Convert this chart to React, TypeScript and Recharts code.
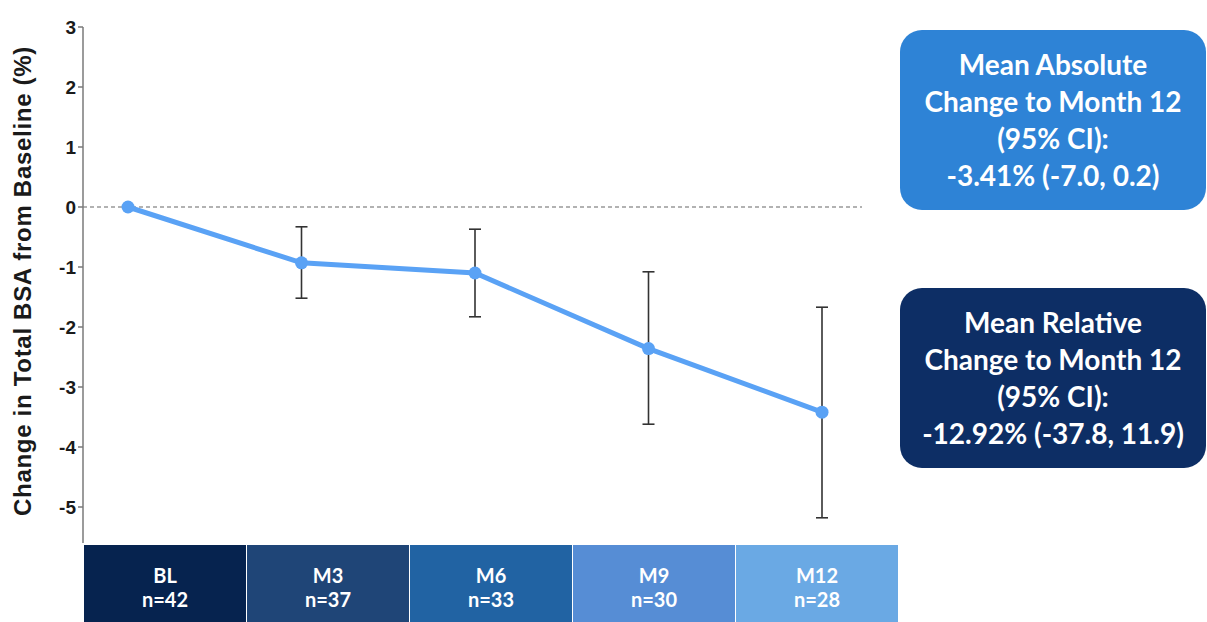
import { LineChart, Line, XAxis, YAxis, ReferenceLine, ErrorBar } from 'recharts';

const VISITS = ['BL', 'M3', 'M6', 'M9', 'M12'];
const N_COUNTS = [42, 37, 33, 30, 28];
const MEAN_CHANGE = [0, -0.93, -1.1, -2.36, -3.42];
const CI_LOWER = [null, -1.52, -1.83, -3.62, -5.18];
const CI_UPPER = [null, -0.33, -0.37, -1.08, -1.67];
const Y_TICKS = [3, 2, 1, 0, -1, -2, -3, -4, -5];
const BOX_COLORS = ['#06234f', '#1f4577', '#2163a3', '#568dd5', '#6aa9e4'];

const data = VISITS.map((visit, i) => ({
  visit,
  mean: MEAN_CHANGE[i],
  // ErrorBar wants distances from the mean: [below, above]
  err:
    CI_LOWER[i] == null
      ? undefined
      : [MEAN_CHANGE[i] - (CI_LOWER[i] as number), (CI_UPPER[i] as number) - MEAN_CHANGE[i]],
}));

const axisFont = '"Liberation Sans", Arial, sans-serif';
const boxFont = 'Lato, "Open Sans", sans-serif';

function YLabel() {
  return (
    <text
      x={31}
      y={281}
      transform="rotate(-90 31 281)"
      textAnchor="middle"
      fontFamily={axisFont}
      fontSize={24}
      fontWeight={700}
      letterSpacing={0.7}
      fill="#1a1a1a"
    >
      Change in Total BSA from Baseline (%)
    </text>
  );
}

function InfoBox({ top, color, lines }: { top: number; color: string; lines: string[] }) {
  return (
    <div
      style={{
        position: 'absolute',
        left: 900,
        top,
        width: 306,
        height: 180,
        borderRadius: 22,
        background: color,
        color: '#fff',
        fontFamily: boxFont,
        fontWeight: 700,
        fontSize: 28,
        lineHeight: '37px',
        display: 'flex',
        flexDirection: 'column',
        justifyContent: 'center',
        alignItems: 'center',
        textAlign: 'center',
        whiteSpace: 'nowrap',
      }}
    >
      {lines.map((l) => (
        <div key={l}>{l}</div>
      ))}
    </div>
  );
}

export default function App() {
  return (
    <div style={{ position: 'absolute', left: 0, top: 0, width: 1207, height: 622, background: '#fff', overflow: 'hidden' }}>
      <LineChart width={900} height={622} data={data} margin={{ top: 27, right: 38, bottom: 79, left: 0 }}>
        <XAxis dataKey="visit" hide padding={{ left: 45, right: 40 }} />
        <YAxis
          width={83}
          domain={[-5.6, 3]}
          ticks={Y_TICKS}
          allowDataOverflow
          interval={0}
          axisLine={{ stroke: '#7a7a7a', strokeWidth: 1.5 }}
          tickLine={{ stroke: '#7a7a7a', strokeWidth: 1.5 }}
          tickSize={5}
          tickMargin={2}
          tick={{ fill: '#1a1a1a', fontSize: 19, fontWeight: 700, fontFamily: axisFont }}
          label={<YLabel />}
        />
        <ReferenceLine y={0} stroke="#666" strokeDasharray="4 3" strokeWidth={1.2} />
        <Line
          dataKey="mean"
          stroke="#5aa2f5"
          strokeWidth={5}
          dot={{ r: 6.5, fill: '#5aa2f5', stroke: 'none' }}
          activeDot={false}
          isAnimationActive={false}
        >
          <ErrorBar dataKey="err" direction="y" width={6} stroke="#333" strokeWidth={1.6} />
        </Line>
      </LineChart>

      <div style={{ position: 'absolute', left: 84, top: 545, display: 'flex' }}>
        {VISITS.map((v, i) => (
          <div
            key={v}
            style={{
              width: 162,
              height: 80,
              marginRight: 1,
              background: BOX_COLORS[i],
              color: '#fff',
              fontFamily: boxFont,
              fontWeight: 700,
              fontSize: 20,
              lineHeight: '24px',
              display: 'flex',
              flexDirection: 'column',
              alignItems: 'center',
              paddingTop: 18,
              boxSizing: 'border-box',
            }}
          >
            <div>{v}</div>
            <div>n={N_COUNTS[i]}</div>
          </div>
        ))}
      </div>

      <InfoBox top={30} color="#2e83d6" lines={['Mean Absolute', 'Change to Month 12', '(95% CI):', '-3.41% (-7.0, 0.2)']} />
      <InfoBox top={288} color="#0d2e65" lines={['Mean Relative', 'Change to Month 12', '(95% CI):', '-12.92% (-37.8, 11.9)']} />
    </div>
  );
}
